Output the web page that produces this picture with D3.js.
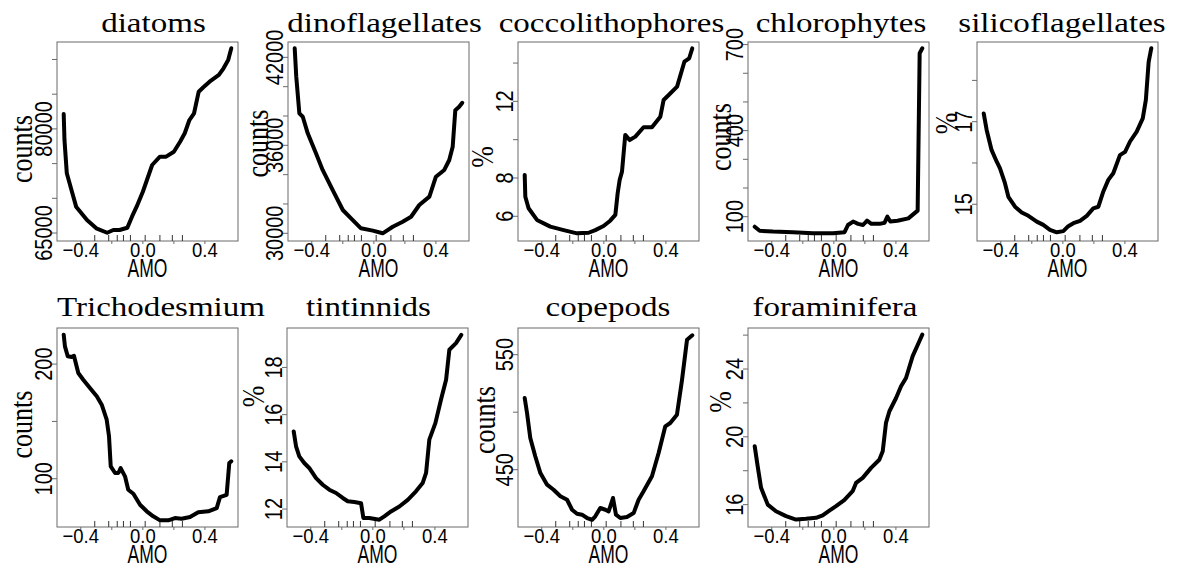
<!DOCTYPE html>
<html>
<head>
<meta charset="utf-8">
<script src="https://cdn.jsdelivr.net/npm/d3@7"></script>
<style>
  body { margin: 0; background: #fff; }
</style>
</head>
<body>
<div id="chart"></div>
<script>
// SVG size
var svgWidth = 1182;
var svgHeight = 567;

// shared x (AMO) axis
var amoRange = [-0.51, 0.57];
var xTicks = [-0.4, -0.2, 0, 0.2, 0.4];
var xTickLabels = [-0.4, 0.0, 0.4];
var rugAMO = [-0.31, -0.22, -0.165, -0.125, -0.08, 0.015, 0.11, 0.19, 0.255];

var titles = ["diatoms", "dinoflagellates", "coccolithophores", "chlorophytes", "silicoflagellates",
              "Trichodesmium", "tintinnids", "copepods", "foraminifera"];
var yTitles = ["counts", "counts", "%", "counts", "%", "counts", "%", "counts", "%"];

// series values
var diatomsX = [-0.51, -0.505, -0.49, -0.46, -0.43, -0.36, -0.30, -0.23, -0.19, -0.15, -0.10, -0.07, -0.04, 0.00, 0.06, 0.11, 0.15, 0.20, 0.24, 0.27, 0.30, 0.33, 0.36, 0.39, 0.43, 0.49, 0.52, 0.55, 0.57];
var diatomsY = [82150, 78400, 73600, 71200, 68800, 66870, 65680, 65040, 65430, 65430, 65760, 67350, 68790, 70950, 74800, 76000, 76000, 76700, 78150, 79370, 81280, 82250, 85360, 86000, 86800, 87770, 88730, 89930, 91620];

var dinoX = [-0.51, -0.50, -0.48, -0.458, -0.426, -0.373, -0.33, -0.265, -0.20, -0.147, -0.083, -0.007, 0.057, 0.122, 0.186, 0.24, 0.293, 0.358, 0.40, 0.454, 0.486, 0.508, 0.525, 0.55, 0.57];
var dinoY = [42620, 40680, 38180, 37950, 36820, 35460, 34320, 32950, 31590, 31020, 30340, 30180, 30000, 30450, 30790, 31130, 31930, 32500, 33860, 34320, 35000, 35900, 38400, 38630, 38900];

var coccoX = [-0.51, -0.506, -0.485, -0.431, -0.345, -0.259, -0.173, -0.098, -0.055, -0.002, 0.041, 0.074, 0.089, 0.102, 0.117, 0.138, 0.166, 0.203, 0.256, 0.31, 0.364, 0.385, 0.418, 0.472, 0.519, 0.55, 0.57];
var coccoY = [8.16, 7.02, 6.42, 5.81, 5.46, 5.28, 5.11, 5.14, 5.28, 5.49, 5.77, 6.07, 7.20, 7.90, 8.33, 10.25, 9.98, 10.16, 10.65, 10.65, 11.20, 12.07, 12.33, 12.77, 14.07, 14.25, 14.77];

var chloroX = [-0.51, -0.478, -0.392, -0.263, -0.134, -0.005, 0.069, 0.091, 0.124, 0.156, 0.188, 0.214, 0.242, 0.295, 0.327, 0.345, 0.364, 0.41, 0.48, 0.54, 0.553, 0.57];
var chloroY = [65, 51, 48, 46, 42, 42, 46, 71, 83, 75, 71, 86, 75, 75, 79, 100, 83, 86, 94, 121, 670, 687];

var silicoX = [-0.51, -0.491, -0.459, -0.426, -0.405, -0.373, -0.351, -0.308, -0.265, -0.222, -0.168, -0.126, -0.083, -0.039, 0.003, 0.035, 0.068, 0.111, 0.154, 0.196, 0.229, 0.261, 0.293, 0.325, 0.368, 0.401, 0.433, 0.476, 0.515, 0.535, 0.553, 0.57];
var silicoY = [17.20, 16.80, 16.31, 16.03, 15.87, 15.51, 15.18, 14.94, 14.80, 14.72, 14.58, 14.50, 14.38, 14.32, 14.35, 14.47, 14.54, 14.60, 14.72, 14.90, 14.94, 15.31, 15.59, 15.75, 16.19, 16.27, 16.52, 16.76, 17.08, 17.53, 18.45, 18.78];

var trichoX = [-0.51, -0.502, -0.484, -0.459, -0.444, -0.416, -0.384, -0.341, -0.297, -0.265, -0.233, -0.218, -0.207, -0.179, -0.158, -0.143, -0.115, -0.094, -0.061, -0.018, 0.025, 0.067, 0.111, 0.164, 0.207, 0.25, 0.304, 0.357, 0.422, 0.476, 0.497, 0.54, 0.557, 0.57];
var trichoY = [225.7, 215.5, 206.8, 206.2, 207.3, 192.2, 186.4, 179.1, 171.9, 164.6, 151.5, 137.0, 110.8, 105.0, 105.0, 109.3, 102.1, 90.4, 86.9, 77.3, 71.6, 67.2, 63.7, 63.7, 65.7, 65.1, 66.6, 70.7, 71.6, 74.4, 84.0, 86.0, 113.7, 115.2];

var tintX = [-0.51, -0.495, -0.474, -0.442, -0.41, -0.366, -0.323, -0.281, -0.237, -0.194, -0.162, -0.119, -0.076, -0.061, -0.023, 0.042, 0.074, 0.117, 0.171, 0.225, 0.278, 0.321, 0.343, 0.364, 0.403, 0.439, 0.472, 0.493, 0.536, 0.57];
var tintY = [15.29, 14.66, 14.23, 13.95, 13.74, 13.31, 13.03, 12.82, 12.68, 12.47, 12.33, 12.30, 12.25, 11.62, 11.62, 11.55, 11.69, 11.90, 12.11, 12.39, 12.75, 13.10, 13.53, 14.94, 15.64, 16.63, 17.48, 18.75, 19.03, 19.38];

var copeX = [-0.51, -0.495, -0.474, -0.442, -0.409, -0.366, -0.324, -0.28, -0.237, -0.205, -0.173, -0.141, -0.108, -0.076, -0.055, -0.023, 0.01, 0.031, 0.059, 0.078, 0.106, 0.149, 0.192, 0.224, 0.256, 0.31, 0.353, 0.396, 0.428, 0.471, 0.504, 0.536, 0.57];
var copeY = [512.3, 499.3, 477.6, 461.7, 447.1, 437.0, 432.6, 426.9, 423.9, 415.2, 411.7, 410.9, 408.0, 406.5, 409.5, 416.7, 415.2, 413.8, 425.4, 410.9, 408.0, 408.9, 412.3, 423.9, 431.2, 444.3, 464.5, 487.7, 490.6, 497.8, 528.3, 563.0, 566.9];

var foramX = [-0.51, -0.491, -0.469, -0.426, -0.373, -0.308, -0.244, -0.18, -0.115, -0.072, -0.029, 0.014, 0.067, 0.121, 0.143, 0.186, 0.24, 0.293, 0.315, 0.336, 0.358, 0.401, 0.433, 0.465, 0.508, 0.551, 0.57];
var foramY = [19.45, 18.27, 16.99, 16.00, 15.61, 15.32, 15.12, 15.16, 15.22, 15.37, 15.65, 15.91, 16.26, 16.79, 17.28, 17.58, 18.17, 18.65, 19.15, 20.82, 21.51, 22.29, 22.98, 23.47, 24.76, 25.64, 26.03];

// y axis ranges and ticks per panel
var yDomains = [[63850, 92520], [29475, 43047], [4.71, 15.10], [15.2, 709], [14.11, 18.93],
                [57.9, 231.5], [11.24, 19.67], [400.2, 573.2], [14.68, 26.42]];
var yTicks = [[65000, 70000, 75000, 80000, 85000, 90000],
              [30000, 32000, 34000, 36000, 38000, 40000, 42000],
              [6, 8, 10, 12, 14],
              [100, 200, 300, 400, 500, 600, 700],
              [15, 16, 17, 18],
              [100, 150, 200],
              [12, 14, 16, 18],
              [450, 500, 550],
              [16, 18, 20, 22, 24, 26]];
var yTickLabels = [[65000, 80000], [30000, 36000, 42000], [6, 8, 12], [100, 400, 700], [15, 17],
                   [100, 200], [12, 14, 16, 18], [450, 550], [16, 20, 24]];

var seriesX = [diatomsX, dinoX, coccoX, chloroX, silicoX, trichoX, tintX, copeX, foramX];
var seriesY = [diatomsY, dinoY, coccoY, chloroY, silicoY, trichoY, tintY, copeY, foramY];

// layout of the panels (pixels)
var panelLeft = [57, 288, 518, 748, 977, 57, 287, 518, 748];
var panelTop = [42, 42, 42, 42, 42, 328, 328, 328, 328];
var panelW = 181, panelH = 199;
var titleCx = [153.5, 384.5, 611.5, 841, 1062, 161, 368.5, 608, 835];
var titleDy = [-10, -10, -10, -10, -10, -12, -12, -12, -12];
var ylabDx = [-25, -20, -25, -17, -20, -25, -23, -23, -17];
var ylabDy = [7.5, 2, 15.5, -4.5, -18, -3, -31, -7.5, -25.5];

var serif = "'Liberation Serif', 'Times New Roman', serif";
var sans = "'Liberation Sans', Arial, sans-serif";

var svg = d3.select("#chart")
    .append("svg")
    .attr("width", svgWidth)
    .attr("height", svgHeight);

// stretch text along its own direction
function fitWidth(sel, factor) {
    sel.each(function () {
        var w = this.getComputedTextLength();
        d3.select(this).attr("textLength", w * factor).attr("lengthAdjust", "spacingAndGlyphs");
    });
}
function fmt(v) {
    return (v < 0 ? "\u2212" : "") + Math.abs(v).toFixed(1);
}

titles.forEach(function (name, i) {
    var L = panelLeft[i], T = panelTop[i], B = T + panelH;
    var pad = 0.04 * (amoRange[1] - amoRange[0]);
    var x = d3.scaleLinear()
        .domain([amoRange[0] - pad, amoRange[1] + pad])
        .range([L, L + panelW]);
    var y = d3.scaleLinear().domain(yDomains[i]).range([B, T]);
    var g = svg.append("g");

    // box
    g.append("rect")
        .attr("x", L).attr("y", T).attr("width", panelW).attr("height", panelH)
        .attr("fill", "none").attr("stroke", "#6a6a6a").attr("stroke-width", 1);

    // y ticks
    g.selectAll(".yt").data(yTicks[i]).enter().append("line")
        .attr("x1", L - 5).attr("x2", L)
        .attr("y1", d => y(d)).attr("y2", d => y(d))
        .attr("stroke", "#6a6a6a");
    g.selectAll(".yl").data(yTickLabels[i]).enter().append("text")
        .attr("transform", d => `translate(${L - 5},${y(d)}) scale(1.22,1) rotate(-90)`)
        .attr("text-anchor", "middle")
        .style("font-family", sans).style("font-size", "20px")
        .text(d => String(d));

    // x ticks, labels, rug
    g.selectAll(".xt").data(xTicks).enter().append("line")
        .attr("x1", d => x(d)).attr("x2", d => x(d))
        .attr("y1", B).attr("y2", B + 3)
        .attr("stroke", "#6a6a6a");
    g.selectAll(".rug").data(rugAMO).enter().append("line")
        .attr("x1", d => x(d)).attr("x2", d => x(d))
        .attr("y1", B).attr("y2", B - 6)
        .attr("stroke", "#333");
    g.selectAll(".xl").data(xTickLabels).enter().append("text")
        .attr("x", d => x(d)).attr("y", B + 16)
        .attr("text-anchor", "middle")
        .style("font-family", sans).style("font-size", "21px")
        .text(d => fmt(d))
        .call(fitWidth, 0.88);
    g.append("text")
        .attr("x", L + panelW / 2).attr("y", B + 36)
        .attr("text-anchor", "middle")
        .style("font-family", sans).style("font-size", "25px")
        .text("AMO")
        .call(fitWidth, 0.7);

    // title and y label
    g.append("text")
        .attr("x", titleCx[i]).attr("y", T + titleDy[i])
        .attr("text-anchor", "middle")
        .style("font-family", serif).style("font-size", "28px")
        .text(name)
        .call(fitWidth, 1.18);
    g.append("text")
        .attr("transform", `translate(${L + ylabDx[i]},${T + panelH / 2 + ylabDy[i]}) scale(1.2,1) rotate(-90)`)
        .attr("text-anchor", "middle")
        .style("font-family", serif).style("font-size", "26px")
        .text(yTitles[i]);

    // smooth curve
    var pts = seriesX[i].map((v, k) => [v, seriesY[i][k]]);
    g.append("path")
        .datum(pts)
        .attr("d", d3.line().x(d => x(d[0])).y(d => y(d[1])))
        .attr("fill", "none")
        .attr("stroke", "#000")
        .attr("stroke-width", 4)
        .attr("stroke-linejoin", "round")
        .attr("stroke-linecap", "round");
});
</script>
</body>
</html>
